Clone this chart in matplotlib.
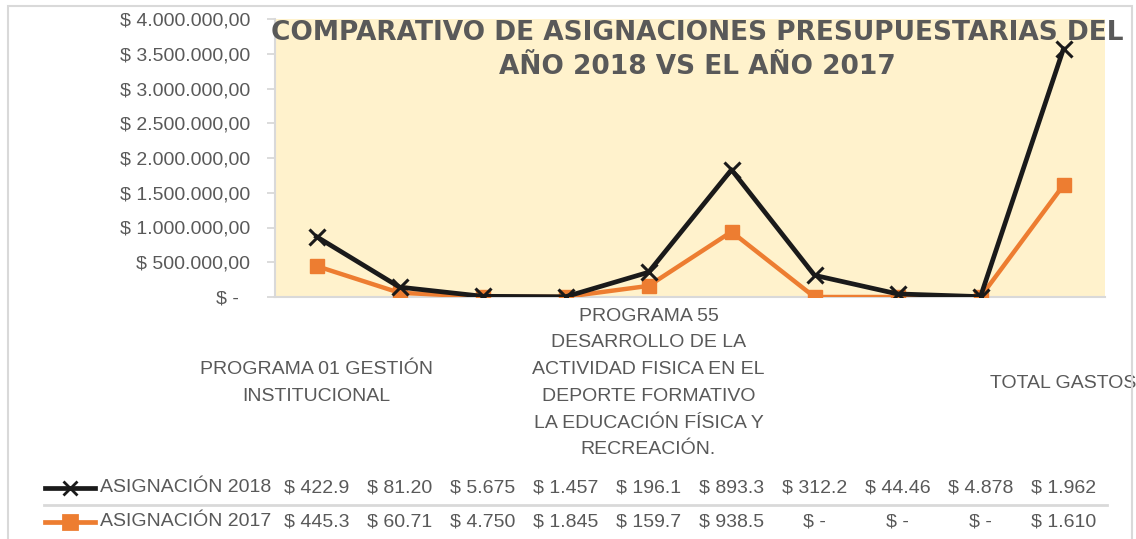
import matplotlib
matplotlib.use('Agg')
import matplotlib.pyplot as plt
import numpy as np
from matplotlib.lines import Line2D
from matplotlib.patches import Rectangle
from matplotlib.ticker import FuncFormatter
import matplotlib.transforms as mtransforms

plt.rcParams['font.family'] = ['Liberation Sans', 'DejaVu Sans']

# Data (values in dollars)
categories = ['PROGRAMA 01 GESTIÓN\nINSTITUCIONAL', '', '', '',
              'PROGRAMA 55\nDESARROLLO DE LA\nACTIVIDAD FISICA EN EL\nDEPORTE FORMATIVO\nLA EDUCACIÓN FÍSICA Y\nRECREACIÓN.',
              '', '', '', '', 'TOTAL GASTOS']
asig_2018 = [422900, 81200, 5675, 1457, 196100, 893300, 312200, 44460, 4878, 1962000]
asig_2017 = [445300, 60710, 4750, 1845, 159700, 938500, 0, 0, 0, 1610000]
series_names = ['ASIGNACIÓN 2018', 'ASIGNACIÓN 2017']

BLACK = '#1a1a1a'
ORANGE = '#ED7D31'
GREY_TXT = '#595959'
GREY_LINE = '#D9D9D9'

W, H = 1136, 539
fig = plt.figure(figsize=(W / 100, H / 100), dpi=100)
fig.patch.set_facecolor('white')

ax = fig.add_axes([275 / W, 1 - 297 / H, 830 / W, 278 / H])
ax.set_facecolor('#FFF2CC')

x = np.arange(len(categories))
v17 = np.array(asig_2017, dtype=float)
v18 = np.array(asig_2018, dtype=float)
stacked_18 = v17 + v18  # stacked line chart

ax.plot(x, v17, color=ORANGE, lw=3.2, marker='s', ms=10.5, zorder=3)
ax.plot(x, stacked_18, color=BLACK, lw=3.4, marker='x', ms=11, mew=2.2, zorder=4)

ax.set_xlim(-0.5, len(categories) - 0.5)
ax.set_ylim(0, 4000000)
ax.set_yticks(np.arange(0, 4000001, 500000))


def money(v, pos=None):
    if v == 0:
        return '$ -  '
    s = f'{v:,.2f}'.replace(',', 'X').replace('.', ',').replace('X', '.')
    return '$ ' + s


ax.yaxis.set_major_formatter(FuncFormatter(money))
ax.tick_params(axis='y', colors=GREY_LINE, labelcolor=GREY_TXT, labelsize=14,
               length=6, width=1.3, pad=12)
ax.set_xticks([])
for side in ['top', 'right']:
    ax.spines[side].set_visible(False)
ax.spines['left'].set_color(GREY_LINE)
ax.spines['left'].set_linewidth(1.5)
ax.spines['bottom'].set_color(GREY_LINE)
ax.spines['bottom'].set_linewidth(1.5)

# category labels
trans = mtransforms.blended_transform_factory(ax.transData, fig.transFigure)
for i, lab in enumerate(categories):
    if lab:
        ax.text(i, 1 - 383 / H, lab, transform=trans, ha='center', va='center',
                fontsize=14, color=GREY_TXT, linespacing=1.75, clip_on=False)


# data table
def table_label(v):
    if v == 0:
        return '$ -'
    s = f'{v:,.2f}'.replace(',', 'X').replace('.', ',').replace('X', '.')
    return ('$ ' + s)[:7]


rows_y = [1 - 488 / H, 1 - 522 / H]
for vals, name, y, col, mk in [(asig_2018, series_names[0], rows_y[0], BLACK, 'x'),
                               (asig_2017, series_names[1], rows_y[1], ORANGE, 's')]:
    for i, v in enumerate(vals):
        ax.text(i, y, table_label(v), transform=trans, ha='center', va='center',
                fontsize=14, color=GREY_TXT, clip_on=False)
    fig.text(100 / W, y, name, ha='left', va='center', fontsize=14, color=GREY_TXT)
    key = Line2D([45 / W, 70 / W, 95 / W], [y, y, y], transform=fig.transFigure,
                 color=col, lw=3.4, marker=mk, markevery=[1], ms=10,
                 mew=2.0)
    fig.add_artist(key)

fig.add_artist(Line2D([44 / W, 1107 / W], [1 - 505 / H, 1 - 505 / H],
                      transform=fig.transFigure, color=GREY_LINE, lw=2))

# chart border
fig.add_artist(Rectangle((8 / W, -0.1), 1124 / W, 1.1 - 6 / H, transform=fig.transFigure,
                         fill=False, edgecolor=GREY_LINE, lw=1.5))

# title
fig.text(697 / W, 1 - 50 / H,
         'COMPARATIVO DE ASIGNACIONES PRESUPUESTARIAS DEL\nAÑO 2018 VS EL AÑO 2017',
         ha='center', va='center', fontsize=19, fontweight='bold', color=GREY_TXT,
         family='DejaVu Sans', linespacing=1.45, zorder=10)

fig.savefig('out.png', dpi=100, facecolor='white')
